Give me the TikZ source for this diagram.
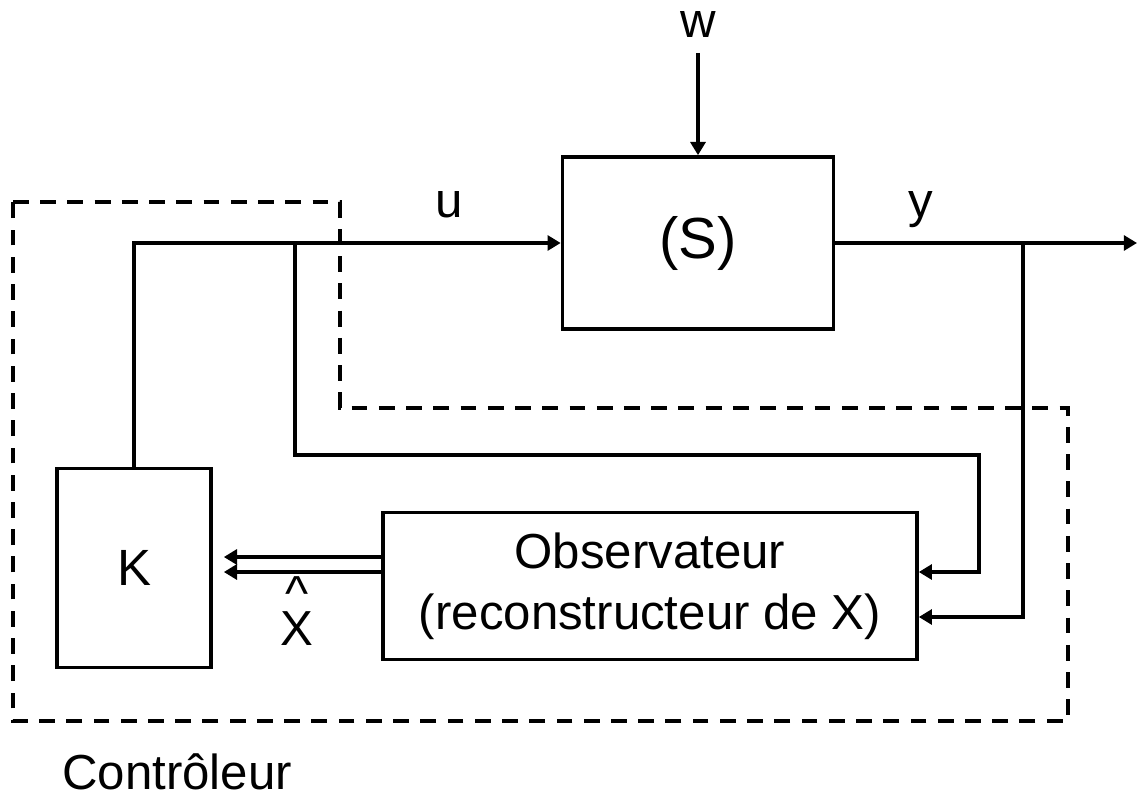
\documentclass[tikz,border=0pt]{standalone}
\usepackage{fontspec}
\setmainfont{Liberation Sans}
\usetikzlibrary{arrows.meta,calc}
\tikzset{
  blk/.style={draw, line width=2.1pt, rectangle, inner sep=0pt, align=center},
  wire/.style={line width=2.1pt},
  arr/.style={wire, -{Triangle[length=7.5pt,width=8.5pt]}},
  ctrl/.style={line width=2.1pt, dash pattern=on 9pt off 6.5pt},
  lbl/.style={font=\fontsize{28pt}{34.5pt}\selectfont, inner sep=0pt},
}
\begin{document}
\begin{tikzpicture}[x=0.02cm, y=-0.02cm]
\useasboundingbox (0,0) rectangle (1139,797);
% blocks
\node[blk, minimum width=5.42cm, minimum height=3.44cm,
      font=\fontsize{33pt}{40pt}\selectfont] (S) at (698,243) {(S)};
\node[blk, minimum width=3.08cm, minimum height=3.98cm,
      font=\fontsize{29pt}{35pt}\selectfont] (K) at (134,568) {K};
\node[blk, minimum width=10.68cm, minimum height=2.94cm,
      font=\fontsize{28pt}{34.5pt}\selectfont] (Obs) at (650,586)
      {Observateur\\(reconstructeur de X)};
% labels
\node[lbl, anchor=base] (w) at (698,38) {w};
\node[lbl, anchor=base] (u) at (449,217) {u};
\node[lbl, anchor=base] (y) at (921,217) {y};
\node[lbl, anchor=base] (X) at (297,645)
  {\ooalign{X\cr\hidewidth\raisebox{19.5pt}{\textasciicircum}\hidewidth\cr}};
\node[lbl, anchor=base west] (ctl) at (62,789) {Contrôleur};
% coordinates
\coordinate (wtop) at (698,53);
\coordinate (kup) at (K.north |- S.west);
\coordinate (bu) at (295,0 |- S.west);
\coordinate (by) at (1023,0 |- S.west);
\coordinate (yout) at (1137,0 |- S.west);
\coordinate (ua) at (979,455);
\coordinate (in1) at (Obs.east |- 0,572);
\coordinate (in2) at (Obs.east |- 0,617);
\coordinate (o1) at (Obs.west |- 0,557);
\coordinate (o2) at (Obs.west |- 0,572);
\coordinate (k1) at ($(K.east |- o1)+(11,0)$);
\coordinate (k2) at ($(K.east |- o2)+(11,0)$);
% connectors
\draw[arr] (wtop) -- (S.north);
\draw[arr] (K.north) -- (kup) -- (S.west);
\draw[arr] (S.east) -- (yout);
\draw[arr] (bu) -- (bu |- ua) -- (ua) -- (ua |- in1) -- (in1);
\draw[arr] (by) -- (by |- in2) -- (in2);
\draw[arr] (o1) -- (k1);
\draw[arr] (o2) -- (k2);
% controller boundary
\draw[ctrl] (13,202) -- (340,202) -- (340,408) -- (1068,408) -- (1068,721) -- (13,721) -- cycle;
\end{tikzpicture}
\end{document}
